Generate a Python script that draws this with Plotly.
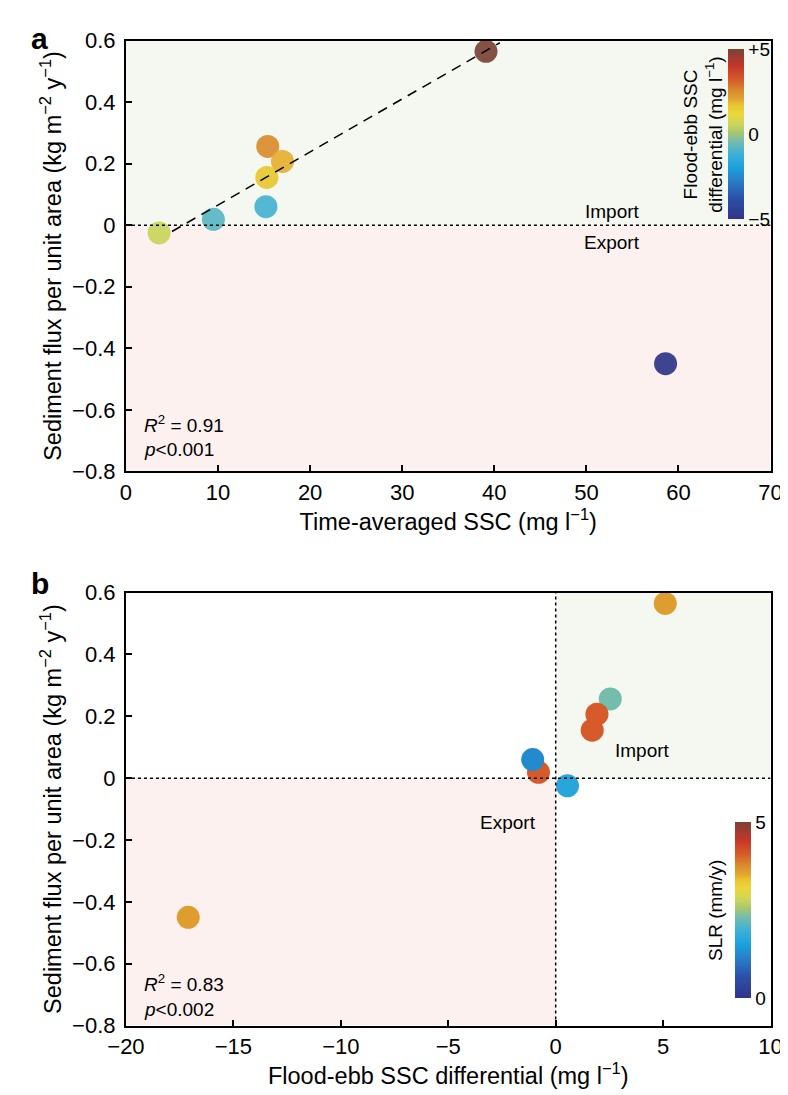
import numpy as np
import plotly.graph_objects as go

# ---------------- data ----------------
# Panel a: time-averaged SSC vs sediment flux, coloured by flood-ebb SSC differential
ssc = [3.6, 9.5, 15.2, 15.3, 15.4, 17.0, 39.1, 58.6]
flux = [-0.025, 0.019, 0.06, 0.155, 0.256, 0.207, 0.565, -0.45]
# Panel b: flood-ebb SSC differential vs sediment flux, coloured by SLR
diff = [0.55, -0.8, -1.07, 1.7, 2.54, 1.92, 5.1, -17.1]
slr = [1.65, 4.1, 1.25, 4.1, 2.28, 4.1, 3.6, 3.6]

fit_n = 7                 # regression uses the first seven sites
fit_x_range = [5.0, 40.6]

a_xticks = [0, 10, 20, 30, 40, 50, 60, 70]
b_xticks = [-20, -15, -10, -5, 0, 5, 10]
yticks = [0.6, 0.4, 0.2, 0, -0.2, -0.4, -0.6, -0.8]
cb_a_ticks = [-5, 0, 5]
cb_a_text = ["\u22125", "0", "+5"]
cb_b_ticks = [0, 5]
cb_b_text = ["0", "5"]

# ---------------- style ----------------
FONT = "Liberation Sans, Arial, Helvetica, sans-serif"
W, H = 788, 1095
PX_L, PX_R = 103, 774
A_TOP, A_BOT = 21, 462
B_TOP, B_BOT = 586, 1029

scale = [
    [0.00, "#2f3589"], [0.12, "#2c4fa8"], [0.22, "#2a7cc6"], [0.30, "#1aa0dc"],
    [0.38, "#3cb0d8"], [0.43, "#5fb8bc"], [0.47, "#80bea4"], [0.51, "#a8c86c"],
    [0.56, "#ccd65a"], [0.62, "#ecd63a"], [0.67, "#e8c630"], [0.70, "#e2a830"],
    [0.755, "#d98a2e"], [0.82, "#d65a2a"], [0.90, "#c43628"], [1.00, "#7c4236"],
]

def fmt(v):
    return ("%g" % v).replace("-", "\u2212")

def px(x):
    return x / W

def py(y):
    return 1 - y / H

fig = go.Figure()

# panel a points
fig.add_trace(go.Scatter(
    x=ssc, y=flux, mode="markers", xaxis="x", yaxis="y",
    marker=dict(size=23, color=diff, coloraxis="coloraxis", opacity=0.92,
                line=dict(width=0)),
    showlegend=False, hoverinfo="skip"))

# regression line (fitted on first sites)
coef = np.polyfit(ssc[:fit_n], flux[:fit_n], 1)
fx = np.array(fit_x_range)
fig.add_trace(go.Scatter(
    x=fx, y=np.polyval(coef, fx), mode="lines", xaxis="x", yaxis="y",
    line=dict(color="black", width=1.5, dash="10px,7px"),
    showlegend=False, hoverinfo="skip"))

# panel b points
fig.add_trace(go.Scatter(
    x=diff, y=flux, mode="markers", xaxis="x2", yaxis="y2",
    marker=dict(size=23, color=slr, coloraxis="coloraxis2", opacity=1.0,
                line=dict(width=0)),
    showlegend=False, hoverinfo="skip"))

GREEN = "#f4f8f1"
PINK = "#fcf1ef"
DOT = dict(color="black", width=1.5, dash="dot")
shapes = [
    dict(type="rect", xref="x", yref="y", x0=0, x1=70, y0=0, y1=0.6,
         fillcolor=GREEN, line_width=0, layer="below"),
    dict(type="rect", xref="x", yref="y", x0=0, x1=70, y0=-0.8, y1=0,
         fillcolor=PINK, line_width=0, layer="below"),
    dict(type="line", xref="x", yref="y", x0=0, x1=70, y0=0, y1=0, line=DOT),
    dict(type="rect", xref="x2", yref="y2", x0=0, x1=10, y0=0, y1=0.6,
         fillcolor=GREEN, line_width=0, layer="below"),
    dict(type="rect", xref="x2", yref="y2", x0=-20, x1=0, y0=-0.8, y1=0,
         fillcolor=PINK, line_width=0, layer="below"),
    dict(type="line", xref="x2", yref="y2", x0=-20, x1=10, y0=0, y1=0, line=DOT),
    dict(type="line", xref="x2", yref="y2", x0=0, x1=0, y0=-0.8, y1=0.6, line=DOT),
]

TF = dict(family=FONT, size=22, color="black")
TITLE_F = dict(family=FONT, size=23.5, color="black")
ANN_F = dict(family=FONT, size=19, color="black")
axis_common = dict(
    showline=True, linewidth=2, linecolor="black", mirror=True,
    ticks="inside", ticklen=6, tickwidth=1.5, tickcolor="black",
    showgrid=False, zeroline=False, tickfont=TF,
)
ytitle = "Sediment flux per unit area (kg m<sup>\u22122</sup> y<sup>\u22121</sup>)"


def ann(text, x, y, xref="paper", yref="paper", xanchor="center", **kw):
    d = dict(text=text, x=x, y=y, xref=xref, yref=yref, xanchor=xanchor,
             yanchor="middle", showarrow=False, font=ANN_F)
    d.update(kw)
    return d

annots = [
    ann("<b>a</b>", px(2), py(0), xanchor="left", yanchor="top",
        font=dict(family=FONT, size=30, color="black")),
    ann("<b>b</b>", px(2), py(558), xanchor="left", yanchor="top",
        font=dict(family=FONT, size=30, color="black")),
    ann("Import", 52.8, 0.044, "x", "y"),
    ann("Export", 52.8, -0.057, "x", "y"),
    ann("<i>R</i><sup>2</sup> = 0.91", px(120), py(413), xanchor="left"),
    ann("<i>p</i><0.001", px(120), py(440), xanchor="left"),
    ann("Import", 4.06, 0.089, "x2", "y2"),
    ann("Export", -2.2, -0.145, "x2", "y2"),
    ann("<i>R</i><sup>2</sup> = 0.83", px(120), py(986), xanchor="left"),
    ann("<i>p</i><0.002", px(120), py(1013), xanchor="left"),
    ann("Flood-ebb SSC<br>differential (mg l<sup>\u22121</sup>)",
        px(704), py(117), textangle=-90),
    ann("SLR (mm/y)", px(716), py(911), textangle=-90),
]

fig.update_layout(
    width=W, height=H, margin=dict(l=0, r=0, t=0, b=0),
    paper_bgcolor="white", plot_bgcolor="white",
    font=dict(family=FONT, color="black"),
    xaxis=dict(axis_common, domain=[px(PX_L), px(PX_R)], range=[0, 70],
               anchor="y", tickvals=a_xticks, ticktext=[fmt(v) for v in a_xticks],
               title=dict(text="Time-averaged SSC (mg l<sup>\u22121</sup>)",
                          font=TITLE_F, standoff=8)),
    yaxis=dict(axis_common, domain=[py(A_BOT), py(A_TOP)], range=[-0.8, 0.6],
               anchor="x", tickvals=yticks, ticktext=[fmt(v) for v in yticks],
               ticklabelstandoff=4,
               title=dict(text=ytitle, font=TITLE_F, standoff=4)),
    xaxis2=dict(axis_common, domain=[px(PX_L), px(PX_R)], range=[-20, 10],
                anchor="y2", tickvals=b_xticks, ticktext=[fmt(v) for v in b_xticks],
                title=dict(text="Flood-ebb SSC differential (mg l<sup>\u22121</sup>)",
                           font=TITLE_F, standoff=4)),
    yaxis2=dict(axis_common, domain=[py(B_BOT), py(B_TOP)], range=[-0.8, 0.6],
                anchor="x2", tickvals=yticks, ticktext=[fmt(v) for v in yticks],
                ticklabelstandoff=4,
                title=dict(text=ytitle, font=TITLE_F, standoff=4)),
    coloraxis=dict(
        colorscale=scale, cmin=-5, cmax=5,
        colorbar=dict(x=px(730), xanchor="left", y=py(117), yanchor="middle",
                      thickness=16, thicknessmode="pixels", len=170, lenmode="pixels",
                      outlinewidth=0, ticks="", tickvals=cb_a_ticks,
                      ticktext=cb_a_text, tickfont=dict(family=FONT, size=19),
                      bgcolor="rgba(0,0,0,0)", xpad=0, ypad=0)),
    coloraxis2=dict(
        colorscale=scale, cmin=0, cmax=5,
        colorbar=dict(x=px(737), xanchor="left", y=py(911), yanchor="middle",
                      thickness=16, thicknessmode="pixels", len=176, lenmode="pixels",
                      outlinewidth=0, ticks="", tickvals=cb_b_ticks,
                      ticktext=cb_b_text, tickfont=dict(family=FONT, size=19),
                      bgcolor="rgba(0,0,0,0)", xpad=0, ypad=0)),
    shapes=shapes,
    annotations=annots,
)

fig.write_html("out.html")
